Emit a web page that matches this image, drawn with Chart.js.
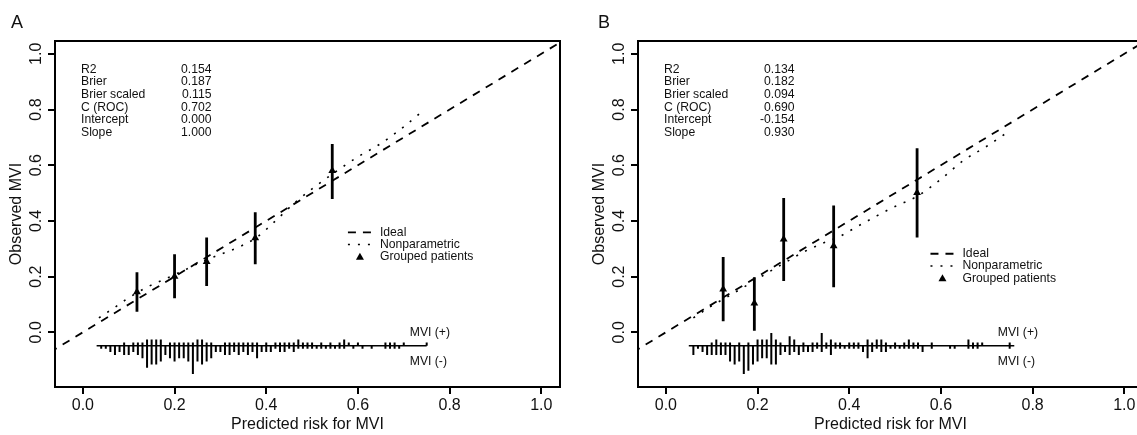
<!DOCTYPE html>
<html>
<head>
<meta charset="utf-8">
<title>Calibration curves</title>
<script src="https://cdn.jsdelivr.net/npm/chart.js@4.4.1/dist/chart.umd.min.js"></script>
<style>
  html, body { margin: 0; padding: 0; background: #fff; overflow: hidden; }
  body { width: 1137px; height: 435px; position: relative; }
  .panel { position: absolute; top: 0; width: 570px; height: 435px; }
  #panelA { left: 0; }
  #panelB { left: 583px; }
</style>
</head>
<body>
<div class="panel" id="panelA"><canvas id="chartA" width="570" height="435"></canvas></div>
<div class="panel" id="panelB"><canvas id="chartB" width="570" height="435"></canvas></div>
<script>
// axis ticks
const xTicks = [0, 0.2, 0.4, 0.6, 0.8, 1.0];
const yTicks = [0, 0.2, 0.4, 0.6, 0.8, 1.0];

// ideal diagonal
const idealX = [-0.1, 1.1];
const idealY = [-0.1, 1.1];

const statLabels = ['R2', 'Brier', 'Brier scaled', 'C (ROC)', 'Intercept', 'Slope'];
const legendLabels = ['Ideal', 'Nonparametric', 'Grouped patients'];

// ---- Panel A ----
const statsA = ['0.154', '0.187', '0.115', '0.702', '0.000', '1.000'];
const groupXA = [0.118, 0.200, 0.270, 0.376, 0.544];
const groupYA = [0.145, 0.200, 0.253, 0.339, 0.580];
const ciLowA  = [0.074, 0.122, 0.166, 0.244, 0.479];
const ciHighA = [0.216, 0.280, 0.340, 0.431, 0.676];
const npXA = [0.035, 0.07, 0.10, 0.14, 0.18, 0.22, 0.26, 0.30, 0.34, 0.38, 0.42, 0.46, 0.50, 0.55, 0.60, 0.65, 0.70, 0.745];
const npYA = [0.052, 0.090, 0.124, 0.162, 0.192, 0.222, 0.254, 0.280, 0.306, 0.342, 0.400, 0.462, 0.515, 0.575, 0.630, 0.678, 0.738, 0.800];
// spike histogram, bins of 0.01 from 0.03 to 0.75
const spikeStartA = 0.03;
const spikeEndA = 0.75;
const spikeNegA = [0,1,1,2,3,2,3,3,2,3,4,7,6,6,5,3,4,5,4,4,5,9,5,6,5,4,2,2,3,3,2,3,2,3,2,4,2,2,2,1,2,2,1,2,1,1,1,1,1,1,1,1,1,1,1,0,1,0,1,0,1,0,0,1,1,1,1,0,0,0,0,0,0];
const spikePosA = [0,0,0,0,0,0,1,0,1,1,1,2,2,2,2,0,1,1,1,1,1,1,2,2,1,1,0,0,1,1,1,1,1,1,1,1,0,1,0,1,1,1,1,1,2,1,1,1,0,1,0,1,0,1,2,1,0,1,0,0,0,0,0,1,1,1,0,1,0,0,0,0,1];

// ---- Panel B ----
const statsB = ['0.134', '0.182', '0.094', '0.690', '-0.154', '0.930'];
const groupXB = [0.125, 0.193, 0.257, 0.366, 0.548];
const groupYB = [0.155, 0.104, 0.334, 0.310, 0.501];
const ciLowB  = [0.040, 0.006, 0.184, 0.162, 0.340];
const ciHighB = [0.270, 0.198, 0.482, 0.455, 0.661];
const npXB = [0.06, 0.10, 0.14, 0.18, 0.22, 0.26, 0.30, 0.34, 0.38, 0.42, 0.46, 0.50, 0.55, 0.60, 0.65, 0.70, 0.745];
const npYB = [0.052, 0.095, 0.133, 0.172, 0.212, 0.250, 0.288, 0.318, 0.345, 0.382, 0.418, 0.452, 0.490, 0.550, 0.618, 0.668, 0.718];
// spike histogram, bins of 0.01 from 0.05 to 0.76
const spikeStartB = 0.05;
const spikeEndB = 0.76;
const spikeNegB = [0,3,1,2,3,3,3,3,3,5,6,5,9,8,6,5,4,4,6,6,3,2,3,2,3,2,2,2,1,2,1,3,1,1,1,1,1,1,2,4,2,1,2,2,1,1,1,1,1,1,1,2,0,1,0,0,0,1,1,0,0,1,1,1,0,0,0,0,0,0,1,0];
const spikePosB = [0,0,0,0,0,1,2,1,1,1,0,1,0,1,0,2,2,2,4,2,1,0,3,2,0,1,0,1,1,4,1,2,1,1,0,1,1,1,0,2,1,2,2,1,0,1,0,1,2,1,1,0,0,1,0,0,0,0,0,0,0,2,1,1,1,0,0,0,0,0,1,0];

const spikeBase = -0.048;
const spikeUnit = 0.0113;

const FONT = '"Liberation Sans", Arial, Helvetica, sans-serif';
const INK = '#111';

function pts(xs, ys) {
  return xs.map((x, i) => ({ x: x, y: ys[i] }));
}

function errorBars(xs, lo, hi) {
  const out = [];
  xs.forEach((x, i) => {
    out.push({ x: x, y: lo[i] }, { x: x, y: hi[i] }, { x: x, y: null });
  });
  return out;
}

function spikes(start, neg, pos) {
  const out = [];
  neg.forEach((n, i) => {
    const p = pos[i];
    if (!n && !p) return;
    const x = +(start + i * 0.01).toFixed(2);
    out.push({ x: x, y: spikeBase + p * spikeUnit }, { x: x, y: spikeBase - n * spikeUnit }, { x: x, y: null });
  });
  return out;
}

// texts: panel letter, stats table, legend, MVI labels
const decorPlugin = {
  id: 'decor',
  afterDraw(chart, args, opts) {
    const ctx = chart.ctx;
    const a = chart.chartArea;
    const xs = chart.scales.x;
    const ys = chart.scales.y;
    ctx.save();

    // frame
    ctx.strokeStyle = '#000';
    ctx.lineWidth = 2;
    ctx.strokeRect(a.left, a.top, a.right - a.left, a.bottom - a.top);

    ctx.fillStyle = INK;

    // y tick labels, rotated as in R
    ctx.font = '16px ' + FONT;
    ctx.textAlign = 'center';
    ctx.textBaseline = 'middle';
    ys.ticks.forEach(t => {
      ctx.save();
      ctx.translate(a.left - 18, ys.getPixelForValue(t.value));
      ctx.rotate(-Math.PI / 2);
      ctx.fillText(t.value.toFixed(1), 0, 0);
      ctx.restore();
    });

    // panel letter
    ctx.font = '18px ' + FONT;
    ctx.textAlign = 'left';
    ctx.textBaseline = 'alphabetic';
    ctx.fillText(opts.letter, opts.letterX, 28);

    // stats table
    ctx.font = '12.2px ' + FONT;
    ctx.textBaseline = 'middle';
    statLabels.forEach((lab, i) => {
      const y = a.top + 28.5 + i * 12.6;
      ctx.textAlign = 'left';
      ctx.fillText(lab, a.left + 26, y);
      ctx.textAlign = 'right';
      ctx.fillText(opts.stats[i], a.left + 156.5, y);
    });

    // legend
    const tx = xs.getPixelForValue(opts.legendX);
    const ty = ys.getPixelForValue(opts.legendY);
    const step = 12.2;
    ctx.textAlign = 'left';
    legendLabels.forEach((lab, i) => ctx.fillText(lab, tx, ty + i * step));
    ctx.strokeStyle = '#000';
    ctx.lineWidth = 1.8;
    ctx.setLineDash([8, 7]);
    ctx.beginPath();
    ctx.moveTo(tx - 32, ty);
    ctx.lineTo(tx - 8, ty);
    ctx.stroke();
    ctx.lineWidth = 1.6;
    ctx.setLineDash([2, 8]);
    ctx.beginPath();
    ctx.moveTo(tx - 32, ty + step);
    ctx.lineTo(tx - 8, ty + step);
    ctx.stroke();
    ctx.setLineDash([]);
    const cx = tx - 20, cy = ty + 2 * step;
    ctx.fillStyle = '#000';
    ctx.beginPath();
    ctx.moveTo(cx, cy - 4);
    ctx.lineTo(cx + 4, cy + 3);
    ctx.lineTo(cx - 4, cy + 3);
    ctx.closePath();
    ctx.fill();

    // MVI labels beside spikes
    ctx.fillStyle = INK;
    const mx = xs.getPixelForValue(opts.mviX);
    ctx.fillText('MVI (+)', mx, ys.getPixelForValue(0.0));
    ctx.fillText('MVI (-)', mx, ys.getPixelForValue(-0.104));

    ctx.restore();
  }
};

function buildChart(canvasId, p) {
  const axisGrid = { drawOnChartArea: false, drawTicks: true, tickLength: 7, color: '#000', lineWidth: 2 };
  return new Chart(document.getElementById(canvasId), {
    type: 'line',
    data: {
      datasets: [
        { data: pts(idealX, idealY), borderColor: '#000', borderWidth: 1.8, borderDash: [8, 7], pointRadius: 0 },
        { data: pts(p.npX, p.npY), borderColor: '#000', borderWidth: 1.6, borderDash: [2, 8], pointRadius: 0, cubicInterpolationMode: 'monotone' },
        { data: errorBars(p.gx, p.lo, p.hi), borderColor: '#000', borderWidth: 2.8, pointRadius: 0, spanGaps: false },
        { data: pts(p.gx, p.gy), showLine: false, pointStyle: 'triangle', pointRadius: 4.5, backgroundColor: '#000', borderColor: '#000', borderWidth: 0 },
        { data: pts([p.spStart, p.spEnd], [spikeBase, spikeBase]), borderColor: '#000', borderWidth: 1.5, pointRadius: 0 },
        { data: spikes(p.spStart, p.neg, p.pos), borderColor: '#000', borderWidth: 2, pointRadius: 0, spanGaps: false }
      ]
    },
    options: {
      responsive: false,
      animation: false,
      events: [],
      layout: { padding: { top: 41, right: 10, left: 0, bottom: 0 } },
      plugins: {
        legend: { display: false },
        tooltip: { enabled: false },
        decor: p.decor
      },
      scales: {
        x: {
          type: 'linear',
          min: -0.0608,
          max: 1.0408,
          afterBuildTicks: s => { s.ticks = xTicks.map(v => ({ value: v })); },
          afterFit: s => { s.height = 48; },
          ticks: { callback: v => v.toFixed(1), font: { family: FONT, size: 16 }, color: INK, padding: 2, maxRotation: 0, autoSkip: false },
          grid: axisGrid,
          border: { display: false },
          title: { display: true, text: 'Predicted risk for MVI', font: { family: FONT, size: 16 }, color: INK, padding: { top: 0.5, bottom: 0.5 } }
        },
        y: {
          type: 'linear',
          min: -0.1964,
          max: 1.046,
          afterBuildTicks: s => { s.ticks = yTicks.map(v => ({ value: v })); },
          afterFit: s => { s.width = 55; },
          ticks: { display: false },
          grid: axisGrid,
          border: { display: false },
          title: { display: true, text: 'Observed MVI', font: { family: FONT, size: 16 }, color: INK, padding: { top: 6.5, bottom: 6.5 } }
        }
      }
    },
    plugins: [decorPlugin]
  });
}

document.addEventListener('DOMContentLoaded', () => {
  buildChart('chartA', {
    npX: npXA, npY: npYA, gx: groupXA, gy: groupYA, lo: ciLowA, hi: ciHighA,
    spStart: spikeStartA, spEnd: spikeEndA, neg: spikeNegA, pos: spikePosA,
    decor: { letter: 'A', letterX: 11, stats: statsA, legendX: 0.648, legendY: 0.359, mviX: 0.713 }
  });
  buildChart('chartB', {
    npX: npXB, npY: npYB, gx: groupXB, gy: groupYB, lo: ciLowB, hi: ciHighB,
    spStart: spikeStartB, spEnd: spikeEndB, neg: spikeNegB, pos: spikePosB,
    decor: { letter: 'B', letterX: 15, stats: statsB, legendX: 0.647, legendY: 0.282, mviX: 0.724 }
  });
});
</script>
</body>
</html>
